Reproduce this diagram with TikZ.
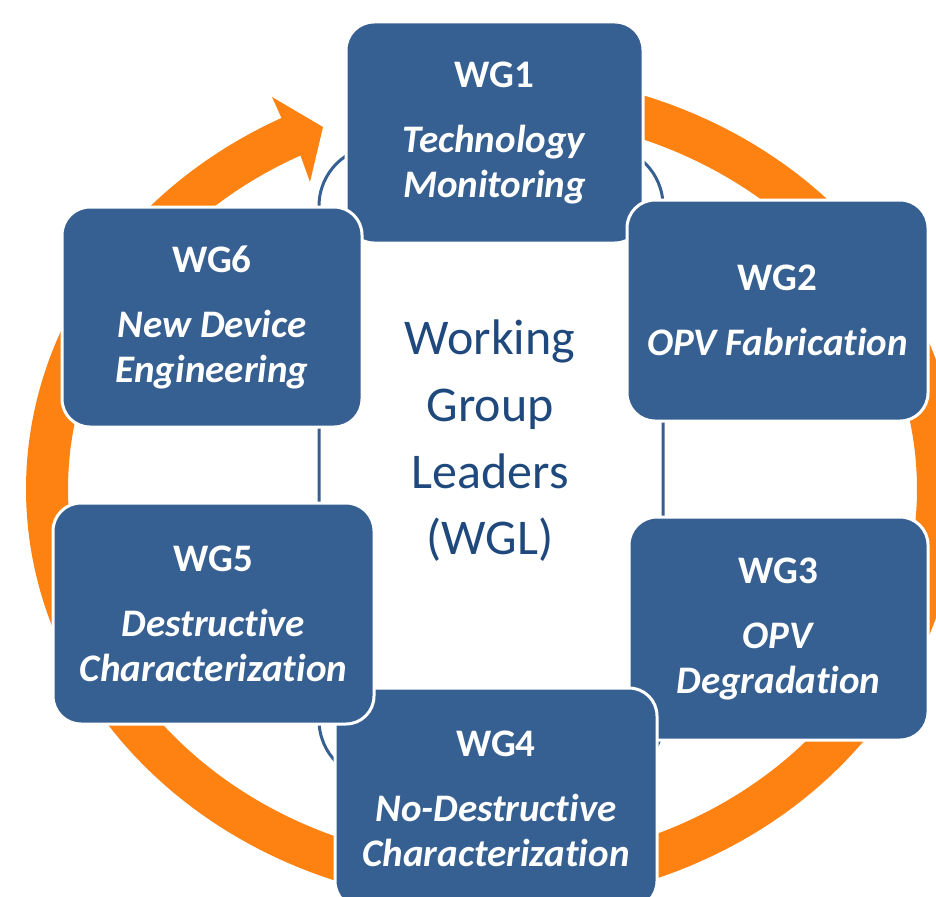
\documentclass[tikz,border=0pt]{standalone}
\usepackage{fontspec}
\setmainfont{Carlito}[Ligatures=NoCommon]
\definecolor{wgblue}{RGB}{55,96,146}
\definecolor{ringorange}{RGB}{253,130,18}
\definecolor{leadtext}{RGB}{31,73,125}
\begin{document}
\begin{tikzpicture}
  [x=1pt,y=-1pt,
   wg/.style={rectangle,rounded corners=28pt,draw=white,line width=3pt,fill=wgblue,text=white,
     font=\fontsize{39}{45}\selectfont\bfseries,align=center,minimum height=221pt},
   ring/.style={ringorange,line width=42pt}]
  \useasboundingbox (0,0) rectangle (936,896);
  % orange cycle with its head
  \draw[ring,domain=-100:243.6,samples=240,smooth] plot ({492.5+445.5*cos(\x)},{489+395*sin(\x)});
  \fill[ringorange] (281.5,118) -- (272,97) -- (323,127) -- (310,182) -- (300.5,155.5) -- cycle;
  % thin frame round the leaders
  \draw[wgblue,line width=3pt,rounded corners=60pt] (319,146) rectangle (663,780);
  \node[name=wgl,text=leadtext,font=\fontsize{50}{66.7}\selectfont,align=center]at(490,441){Working\\Group\\Leaders\\(WGL)};
  % working groups
  \node[wg,name=wg1,minimum width=297pt]at(494.5,132.5){WG1\\[20pt]\textit{Technology}\\\textit{Monitoring}};
  \node[wg,name=wg2,minimum width=301pt]at(777.5,310.5){WG2\\[20pt]\textit{OPV Fabrication}};
  \node[wg,name=wg3,minimum width=299pt,minimum height=223pt]at(778.5,628.5){WG3\\[20pt]\textit{OPV}\\\textit{Degradation}};
  \node[wg,name=wg4,minimum width=322pt]at(496,798.5){WG4\\[20pt]\textit{No-Destructive}\\\textit{Characterization}};
  \node[wg,name=wg5,minimum width=321pt]at(213.5,613.5){WG5\\[20pt]\textit{Destructive}\\\textit{Characterization}};
  \node[wg,name=wg6,minimum width=300pt,minimum height=220pt]at(212,317){WG6\\[20pt]\textit{New Device}\\\textit{Engineering}};
\end{tikzpicture}
\end{document}
